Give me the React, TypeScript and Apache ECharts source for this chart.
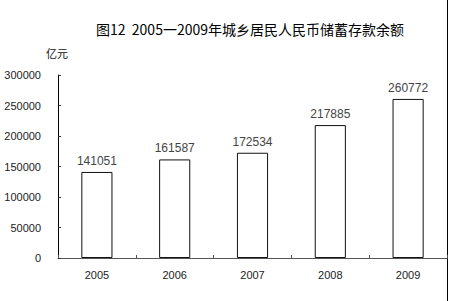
import React, { useEffect, useRef } from "react";
import * as echarts from "echarts";

const categories = ["2005", "2006", "2007", "2008", "2009"];
const values = [141051, 161587, 172534, 217885, 260772];
const yMax = 300000;
const yInterval = 50000;

export default function App() {
  const ref = useRef<HTMLDivElement>(null);
  useEffect(() => {
    const chart = echarts.init(ref.current!, null, { renderer: "svg" });
    chart.setOption({
      animation: false,
      backgroundColor: "#ffffff",
      title: {
        text: "图12  2005一2009年城乡居民人民币储蓄存款余额",
        left: 245,
        textAlign: "center",
        top: 17,
        textStyle: {
          fontFamily: "Noto Sans CJK SC",
          fontSize: 14,
          fontWeight: "normal",
          color: "#000",
        },
      },
      graphic: [
        {
          type: "text",
          left: 46,
          top: 47,
          style: {
            text: "亿元",
            fontFamily: "Noto Sans CJK SC",
            fontSize: 11,
            fill: "#111",
          },
        },
        {
          type: "line",
          shape: { x1: 447.5, y1: 0, x2: 447.5, y2: 301 },
          style: { stroke: "#000", lineWidth: 1 },
        },
      ],
      grid: { left: 58, right: 3, top: 75, bottom: 43 },
      xAxis: {
        type: "category",
        data: categories,
        axisLine: { lineStyle: { color: "#555", width: 1 } },
        axisTick: { show: true, inside: true, length: 3, alignWithLabel: false, lineStyle: { color: "#555" } },
        axisLabel: { color: "#222", fontFamily: "Liberation Sans", fontSize: 11, margin: 11 },
      },
      yAxis: {
        type: "value",
        min: 0,
        max: yMax,
        interval: yInterval,
        axisLine: { show: true, lineStyle: { color: "#000", width: 1 } },
        axisTick: { show: true, inside: true, length: 3, lineStyle: { color: "#333" } },
        splitLine: { show: false },
        axisLabel: {
          color: "#222",
          fontFamily: "Liberation Sans",
          fontSize: 11,
          margin: 17,
          formatter: (v: number) => String(v),
        },
      },
      series: [
        {
          type: "bar",
          data: values,
          barWidth: "40%",
          itemStyle: { color: "#ffffff", borderColor: "#111", borderWidth: 1 },
          label: {
            show: true,
            position: "top",
            distance: 5,
            color: "#444",
            fontFamily: "Liberation Sans",
            fontSize: 12,
          },
        },
      ],
    });
    return () => chart.dispose();
  }, []);
  return (
    <div
      ref={ref}
      style={{ position: "fixed", left: 0, top: 0, width: 450, height: 301 }}
    />
  );
}
